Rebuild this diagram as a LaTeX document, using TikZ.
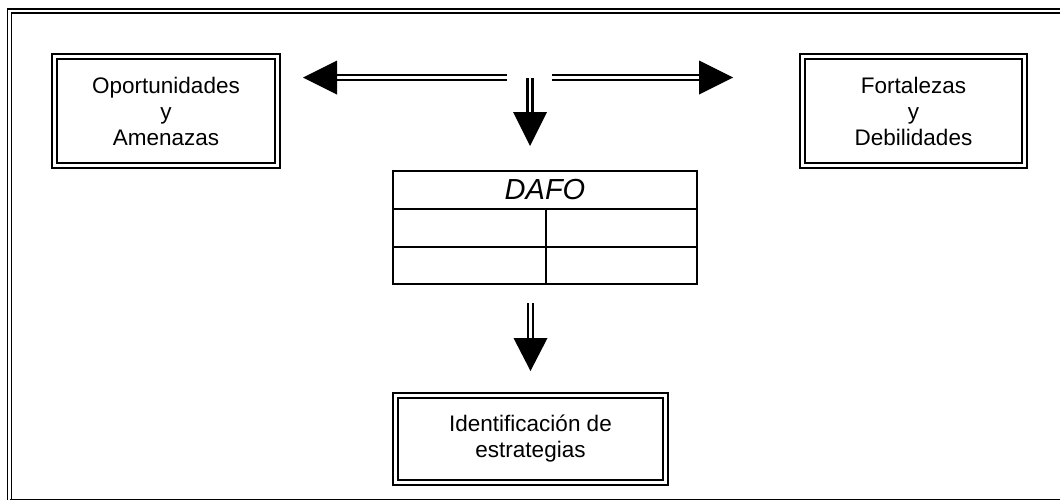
\documentclass[tikz,border=0pt]{standalone}
\usepackage{fontspec}
\setmainfont{Liberation Sans}
\tikzset{
  dblbox/.style={draw=black, line width=2pt, double=white, double distance=2.6pt,
    align=center, inner sep=0pt, font=\fontsize{22.5}{26}\selectfont},
  shaft/.style={draw=black, line width=2.4pt, double=white, double distance=2.8pt},
  headfill/.style={fill=black},
  grid/.style={draw=black, line width=1.5pt},
  frame/.style={draw=black, line width=1.8pt, double=white, double distance=2.2pt},
}
\begin{document}
\begin{tikzpicture}[x=1pt,y=-1pt]
\useasboundingbox (0,0) rectangle (1060,501);
% outer frame
\draw[frame] (1075,11) -- (9.5,11) -- (9.5,500);
\draw[black, line width=1.5pt] (9.5,499.5) -- (1075,499.5);
% boxes
\node[dblbox, minimum width=223.5pt, minimum height=109.5pt] (oa) at (166,111) {Oportunidades\\y\\Amenazas};
\node[dblbox, minimum width=222pt, minimum height=109.5pt] (fd) at (913.5,111) {Fortalezas\\y\\Debilidades};
\node[dblbox, minimum width=270pt, minimum height=87pt] (ie) at (530.5,439) {Identificaci\'on de\\estrategias};
% DAFO table
\node[grid, minimum width=304pt, minimum height=113pt, inner sep=0pt] (dafo) at (545,227.5) {};
\draw[grid] (393,209) -- (697,209);
\draw[grid] (393,247) -- (697,247);
\draw[grid] (546,209) -- (546,284);
\node[font=\fontsize{29}{32}\selectfont\itshape] (dafot) at (545,190) {DAFO};
% top arrows
\coordinate (hub) at (530,77.5);
\coordinate (lt) at (303,77.5);
\coordinate (rt) at (733,77.5);
\coordinate (dt) at (530,146);
\draw[shaft] ([shift={(-23,0)}]hub) -- ([shift={(33,0)}]lt);
\fill[headfill] (lt) -- ([shift={(34,-17)}]lt) -- ([shift={(34,17)}]lt) -- cycle;
\draw[shaft] ([shift={(22,0)}]hub) -- ([shift={(-33,0)}]rt);
\fill[headfill] (rt) -- ([shift={(-34,-17)}]rt) -- ([shift={(-34,17)}]rt) -- cycle;
\draw[shaft] ([shift={(0,0.5)}]hub) -- ([shift={(0,-33)}]dt);
\fill[headfill] (dt) -- ([shift={(-17,-34)}]dt) -- ([shift={(17,-34)}]dt) -- cycle;
% lower arrow
\coordinate (d2s) at (530.5,303);
\coordinate (d2t) at (530.5,371);
\draw[shaft] (d2s) -- ([shift={(0,-32)}]d2t);
\fill[headfill] (d2t) -- ([shift={(-17,-33)}]d2t) -- ([shift={(17,-33)}]d2t) -- cycle;
\end{tikzpicture}
\end{document}
